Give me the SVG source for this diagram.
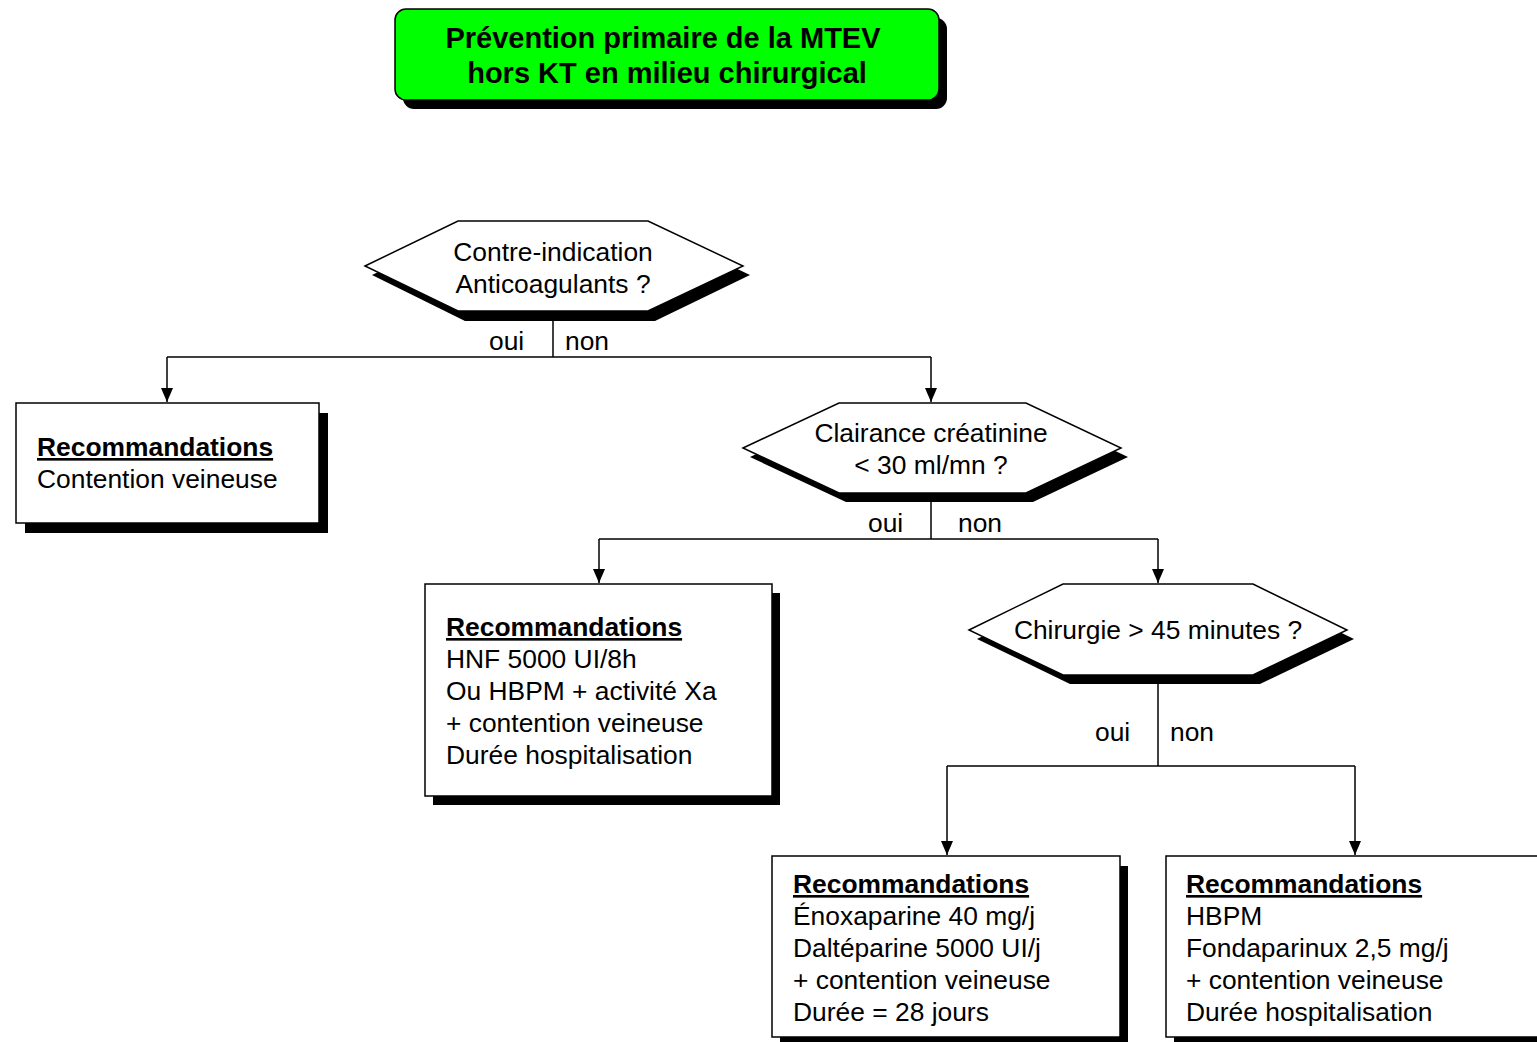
<svg xmlns="http://www.w3.org/2000/svg" width="1537" height="1042" viewBox="0 0 1537 1042">
<style>
text{font-family:"Liberation Sans",Arial,sans-serif;font-size:26.4px;fill:#000}
.t{font-weight:bold;font-size:29px}
.h{font-weight:bold;text-decoration:underline}
.c{text-anchor:middle}
.box{fill:#fff;stroke:#000;stroke-width:1.5}
.sh{fill:#000}
.ln{fill:none;stroke:#000;stroke-width:1.5}
</style>
<defs>
<marker id="ar" viewBox="0 0 14 12" refX="14" refY="6" markerWidth="14" markerHeight="12" markerUnits="userSpaceOnUse" orient="auto">
<path d="M0,0 L14,6 L0,12 Z" fill="#000"/>
</marker>
</defs>
<g id="title">
<rect x="403" y="18" width="544" height="91" rx="11" class="sh"/>
<rect x="395" y="9" width="544" height="91" rx="11" fill="#00ff00" stroke="#000" stroke-width="1.5"/>
<text class="t c" x="663" y="48">Prévention primaire de la MTEV</text>
<text class="t c" x="667" y="83">hors KT en milieu chirurgical</text>
</g>
<g id="connectors">
<path class="ln" d="M553,311 V357"/>
<path class="ln" d="M167,357 H931"/>
<path class="ln" d="M167,357 V402" marker-end="url(#ar)"/>
<path class="ln" d="M931,357 V402" marker-end="url(#ar)"/>
<path class="ln" d="M931,493 V539"/>
<path class="ln" d="M599,539 H1158"/>
<path class="ln" d="M599,539 V583" marker-end="url(#ar)"/>
<path class="ln" d="M1158,539 V583" marker-end="url(#ar)"/>
<path class="ln" d="M1158,675 V766"/>
<path class="ln" d="M947,766 H1355"/>
<path class="ln" d="M947,766 V855" marker-end="url(#ar)"/>
<path class="ln" d="M1355,766 V855" marker-end="url(#ar)"/>
<text x="489" y="350">oui</text>
<text x="565" y="350">non</text>
<text x="868" y="532">oui</text>
<text x="958" y="532">non</text>
<text x="1095" y="741">oui</text>
<text x="1170" y="741">non</text>
</g>
<g id="q1">
<polygon class="sh" points="372,275 465,230 655,230 750,275 655,321 465,321"/>
<polygon class="box" points="365,266 458,221 648,221 743,266 648,311 458,311"/>
<text class="c" x="553" y="261">Contre-indication</text>
<text class="c" x="553" y="293">Anticoagulants ?</text>
</g>
<g id="r1">
<rect class="sh" x="25" y="413" width="303" height="120"/>
<rect class="box" x="16" y="403" width="303" height="120"/>
<text class="h" x="37" y="456">Recommandations</text>
<text x="37" y="488">Contention veineuse</text>
</g>
<g id="q2">
<polygon class="sh" points="750,457 846,412 1033,412 1128,457 1033,502 846,502"/>
<polygon class="box" points="743,448 839,403 1026,403 1121,448 1026,493 839,493"/>
<text class="c" x="931" y="442">Clairance créatinine</text>
<text class="c" x="931" y="474">&lt; 30 ml/mn ?</text>
</g>
<g id="r2">
<rect class="sh" x="433" y="593" width="347" height="212"/>
<rect class="box" x="425" y="584" width="347" height="212"/>
<text class="h" x="446" y="636">Recommandations</text>
<text x="446" y="668">HNF 5000 UI/8h</text>
<text x="446" y="700">Ou HBPM + activité Xa</text>
<text x="446" y="732">+ contention veineuse</text>
<text x="446" y="764">Durée hospitalisation</text>
</g>
<g id="q3">
<polygon class="sh" points="977,639 1070,593 1260,593 1354,639 1260,684 1070,684"/>
<polygon class="box" points="969,630 1063,584 1253,584 1347,630 1253,675 1063,675"/>
<text class="c" x="1158" y="639">Chirurgie &gt; 45 minutes ?</text>
</g>
<g id="r3">
<rect class="sh" x="780" y="866" width="348" height="181"/>
<rect class="box" x="772" y="856" width="348" height="181"/>
<text class="h" x="793" y="893">Recommandations</text>
<text x="793" y="925">Énoxaparine 40 mg/j</text>
<text x="793" y="957">Daltéparine 5000 UI/j</text>
<text x="793" y="989">+ contention veineuse</text>
<text x="793" y="1021">Durée = 28 jours</text>
</g>
<g id="r4">
<rect class="sh" x="1174" y="866" width="390" height="181"/>
<rect class="box" x="1166" y="856" width="390" height="181"/>
<text class="h" x="1186" y="893">Recommandations</text>
<text x="1186" y="925">HBPM</text>
<text x="1186" y="957">Fondaparinux 2,5 mg/j</text>
<text x="1186" y="989">+ contention veineuse</text>
<text x="1186" y="1021">Durée hospitalisation</text>
</g>
</svg>
